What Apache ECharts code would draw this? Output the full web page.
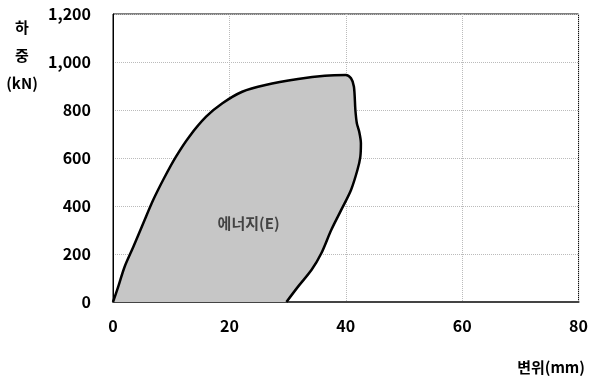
<!DOCTYPE html>
<html>
<head>
<meta charset="utf-8">
<script src="https://cdn.jsdelivr.net/npm/echarts@6/dist/echarts.min.js"></script>
<style>html,body{margin:0;padding:0;background:#fff;}#c{width:591px;height:380px;}</style>
</head>
<body>
<div id="c"></div>
<script>
// Outline of the load-displacement loop (displacement mm, load kN)
var dispMm = [0, 0.9, 2.0, 3.5, 5.2, 6.9, 8.9, 10.8, 13.1, 16.0, 18.8, 22.2, 26.2, 31.8, 36.4, 40.0, 40.9, 41.4, 41.65, 41.9, 42.3, 42.6, 42.5, 42.0, 40.9, 39.2, 37.5, 35.8, 34.1, 31.8, 29.8];
var loadKn = [0, 64, 147, 230, 328, 425, 522, 605, 689, 772, 828, 876, 904, 929, 943, 946, 932, 897, 800, 745, 710, 661, 605, 550, 467, 383, 300, 203, 133, 64, 0];
var xTicks = [0, 20, 40, 60, 80];
var yTicks = [0, 200, 400, 600, 800, 1000, 1200];
var areaLabel = '에너지(E)';
var areaLabelPos = [23.3, 329];
var xTitle = '변위(mm)';
var yTitle = '하\n중\n(kN)';

var pts = dispMm.map(function (x, i) { return [x, loadKn[i]]; });
var chart = echarts.init(document.getElementById('c'));
var font = "'Noto Sans CJK KR', 'Noto Sans', sans-serif";
chart.setOption({
  animation: false,
  grid: { left: 113, right: 8, top: 14, bottom: 78, show: true, borderColor: '#000', borderWidth: 1 },
  xAxis: {
    type: 'value', min: xTicks[0], max: xTicks[xTicks.length - 1], interval: 20,
    axisLine: { show: true, lineStyle: { color: '#444', width: 2 } },
    axisTick: { show: false },
    axisLabel: { margin: 16, color: '#000', fontSize: 16, fontWeight: 'bold', fontFamily: font },
    splitLine: { show: true, lineStyle: { color: '#bbb', type: 'dotted', width: 1 } }
  },
  yAxis: {
    type: 'value', min: yTicks[0], max: yTicks[yTicks.length - 1], interval: 200,
    axisLine: { show: true, lineStyle: { color: '#000', width: 1 } },
    axisTick: { show: false },
    axisLabel: {
      margin: 22, color: '#000', fontSize: 16, fontWeight: 'bold', fontFamily: font,
      formatter: function (v) { return v.toLocaleString('en-US'); }
    },
    splitLine: { show: true, lineStyle: { color: '#bbb', type: 'dotted', width: 1 } }
  },
  graphic: [
    { type: 'text', x: 22, y: 13, z: 10, style: { text: yTitle, align: 'center', verticalAlign: 'top', fill: '#000', font: 'bold 15px ' + font, lineHeight: 28 } },
    { type: 'text', x: 585, y: 367, z: 10, style: { text: xTitle, align: 'right', verticalAlign: 'middle', fill: '#000', font: 'bold 15px ' + font } }
  ],
  series: [
    {
      type: 'line',
      data: pts,
      smooth: 0.3,
      showSymbol: false,
      symbol: 'none',
      lineStyle: { color: '#000', width: 2.5, join: 'round' },
      areaStyle: { color: '#c6c6c6', opacity: 1, origin: 'start' },
      z: 2
    },
    {
      type: 'scatter',
      symbolSize: 0,
      data: [areaLabelPos],
      label: { show: true, position: 'inside', formatter: areaLabel, color: '#222', fontSize: 15, fontWeight: 'bold', fontFamily: font },
      z: 3
    }
  ]
});
</script>
</body>
</html>
